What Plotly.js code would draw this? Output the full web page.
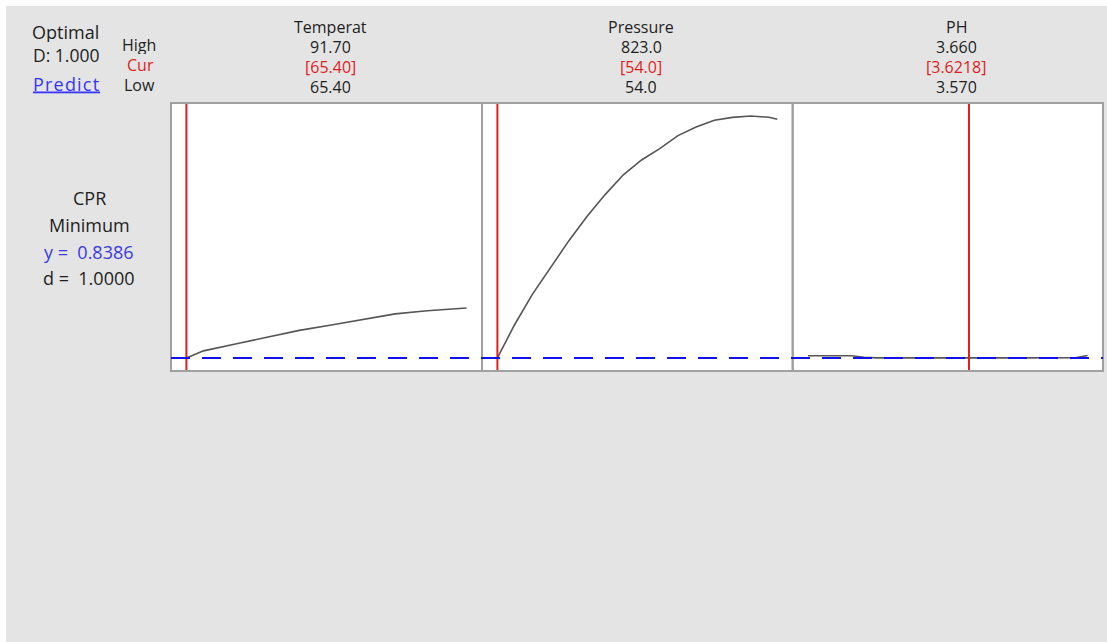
<!DOCTYPE html>
<html><head><meta charset="utf-8">
<script src="https://cdn.plot.ly/plotly-3.0.1.min.js"></script>
<style>
html,body{margin:0;padding:0;background:#ffffff;width:1107px;height:642px;overflow:hidden}
#chart{position:absolute;left:6px;top:6px;width:1101px;height:636px}
</style></head>
<body><div id="chart"></div>
<script>
// ---- data ----
const factors    = ['Temperat', 'Pressure', 'PH'];
const highLabels = ['91.70', '823.0', '3.660'];
const curLabels  = ['[65.40]', '[54.0]', '[3.6218]'];
const lowLabels  = ['65.40', '54.0', '3.570'];
const lows       = [65.40, 54.0, 3.570];
const highs      = [91.70, 823.0, 3.660];
const currents   = [65.40, 54.0, 3.6218];

const tempX = [65.40, 67, 70, 73, 76, 79, 82, 85, 88, 91.70];
const tempY = [0.8386, 1.064, 1.284, 1.496, 1.720, 1.893, 2.075, 2.248, 2.350, 2.437];

const presX = [54, 100, 150, 200, 250, 300, 350, 400, 450, 500, 550, 600, 650, 700, 750, 800, 823];
const presY = [0.8386, 1.877, 2.872, 3.727, 4.585, 5.363, 6.067, 6.701, 7.175, 7.540, 7.956, 8.228, 8.446, 8.539, 8.584, 8.542, 8.478];

const phX = [3.570, 3.578, 3.584, 3.588, 3.592, 3.600, 3.610, 3.6218, 3.630, 3.640, 3.650, 3.656, 3.660];
const phY = [0.910, 0.910, 0.908, 0.862, 0.840, 0.839, 0.8388, 0.8386, 0.8388, 0.839, 0.840, 0.842, 0.915];

const responseName = 'CPR';
const goalName = 'Minimum';
const yOptimal = 0.8386;
const dIndividual = 1.0000;
const dComposite = 1.000;

// ---- geometry helpers (page pixels -> paper coords) ----
const PL = 171, PR = 1103, PT = 103, PB = 371;
const W = PR - PL, H = PB - PT;
const px = x => (x - PL) / W;
const py = y => (PB - y) / H;

const FONT = 'Open Sans, Noto Sans, sans-serif';
const DARK = '#1e1e1e', RED = '#e01e1e', BLUE = '#3a3ae0';
const NB = '\u00a0';

const xs = [tempX, presX, phX];
const ys = [tempY, presY, phY];
const bounds = [171, 482, 792.7, 1103];
const yRange = [0.42, 9.0];

const traces = [];
const layout = {
  width: 1101, height: 636,
  margin: {l: 165, r: 4, t: 97, b: 271, pad: 0},
  paper_bgcolor: '#e4e4e4',
  plot_bgcolor: '#ffffff',
  showlegend: false,
  hovermode: false,
  font: {family: FONT, size: 16, color: DARK},
  yaxis: {range: yRange, showgrid: false, zeroline: false, showticklabels: false, ticks: '', showline: false, fixedrange: true},
  shapes: [],
  annotations: []
};

const headerX = [330, 641, 956];
for (let i = 0; i < 3; i++) {
  const ax = i === 0 ? 'x' : 'x' + (i + 1);
  const axKey = i === 0 ? 'xaxis' : 'xaxis' + (i + 1);
  const span = highs[i] - lows[i];
  const pad = 0.055 * span;
  layout[axKey] = {
    domain: [px(bounds[i]), px(bounds[i + 1])],
    range: [lows[i] - pad, highs[i] + pad],
    anchor: 'y',
    showgrid: false, zeroline: false, showticklabels: false, ticks: '', showline: false, fixedrange: true
  };
  traces.push({
    type: 'scatter', mode: 'lines', x: xs[i], y: ys[i], xaxis: ax, yaxis: 'y',
    line: {color: '#555555', width: 1.6}
  });
  // current setting (red vertical line)
  layout.shapes.push({
    type: 'line', xref: ax, yref: 'paper', x0: currents[i], x1: currents[i], y0: 0, y1: 1,
    line: {color: RED, width: 2}, layer: 'above'
  });
  // panel frame
  layout.shapes.push({
    type: 'rect', xref: 'paper', yref: 'paper', x0: px(bounds[i]), x1: px(bounds[i + 1]), y0: 0, y1: 1,
    line: {color: '#a0a0a0', width: 2}, fillcolor: 'rgba(0,0,0,0)', layer: 'above'
  });
  // header texts
  const hx = px(headerX[i]);
  layout.annotations.push(
    {text: factors[i], x: hx, y: py(26.5), font: {size: 16, color: DARK}, height: 18},
    {text: highLabels[i], x: hx, y: py(46.5), font: {size: 16, color: DARK}, height: 18},
    {text: curLabels[i], x: hx, y: py(66.5), font: {size: 16, color: RED}, height: 18},
    {text: lowLabels[i], x: hx, y: py(87), font: {size: 16, color: DARK}, height: 18}
  );
}

// optimal response (blue dashed line across all panels)
layout.shapes.push({
  type: 'line', xref: 'paper', yref: 'y', x0: 0, x1: 1, y0: yOptimal, y1: yOptimal,
  line: {color: '#1010f0', width: 2, dash: '19px,12px'}, layer: 'above'
});

// left-side labels
layout.annotations.push(
  {text: 'Optimal', x: px(65.5), y: py(32), font: {size: 18, color: DARK}, height: 21},
  {text: 'D: ' + dComposite.toFixed(3), x: px(31), xanchor: 'left', y: py(55), font: {size: 17.5, color: DARK}, height: 21},
  {text: '<u><span style="letter-spacing:1.2px">Predict</span></u>', x: px(31), xanchor: 'left', y: py(83), font: {size: 18, color: '#3535ff'}, height: 21},
  {text: 'High', x: px(139), y: py(45), font: {size: 16, color: DARK}, height: 18},
  {text: 'Cur', x: px(140), y: py(65), font: {size: 16, color: RED}, height: 18},
  {text: 'Low', x: px(139), y: py(85), font: {size: 16, color: DARK}, height: 18},
  {text: responseName, x: px(89), y: py(198), font: {size: 18, color: DARK}},
  {text: goalName, x: px(89), y: py(224.5), font: {size: 18, color: DARK}},
  {text: 'y =' + NB + NB + yOptimal.toFixed(4), x: px(89), y: py(251.5), font: {size: 18, color: BLUE}},
  {text: 'd =' + NB + NB + dIndividual.toFixed(4), x: px(89), y: py(277.5), font: {size: 18, color: DARK}}
);
layout.annotations.forEach(a => {
  a.xref = 'paper'; a.yref = 'paper'; a.showarrow = false;
  if (!a.xanchor) a.xanchor = 'center';
  a.yanchor = 'middle';
  a.font.family = FONT;
});

Plotly.newPlot('chart', traces, layout, {staticPlot: true, displayModeBar: false});
</script>
</body></html>
